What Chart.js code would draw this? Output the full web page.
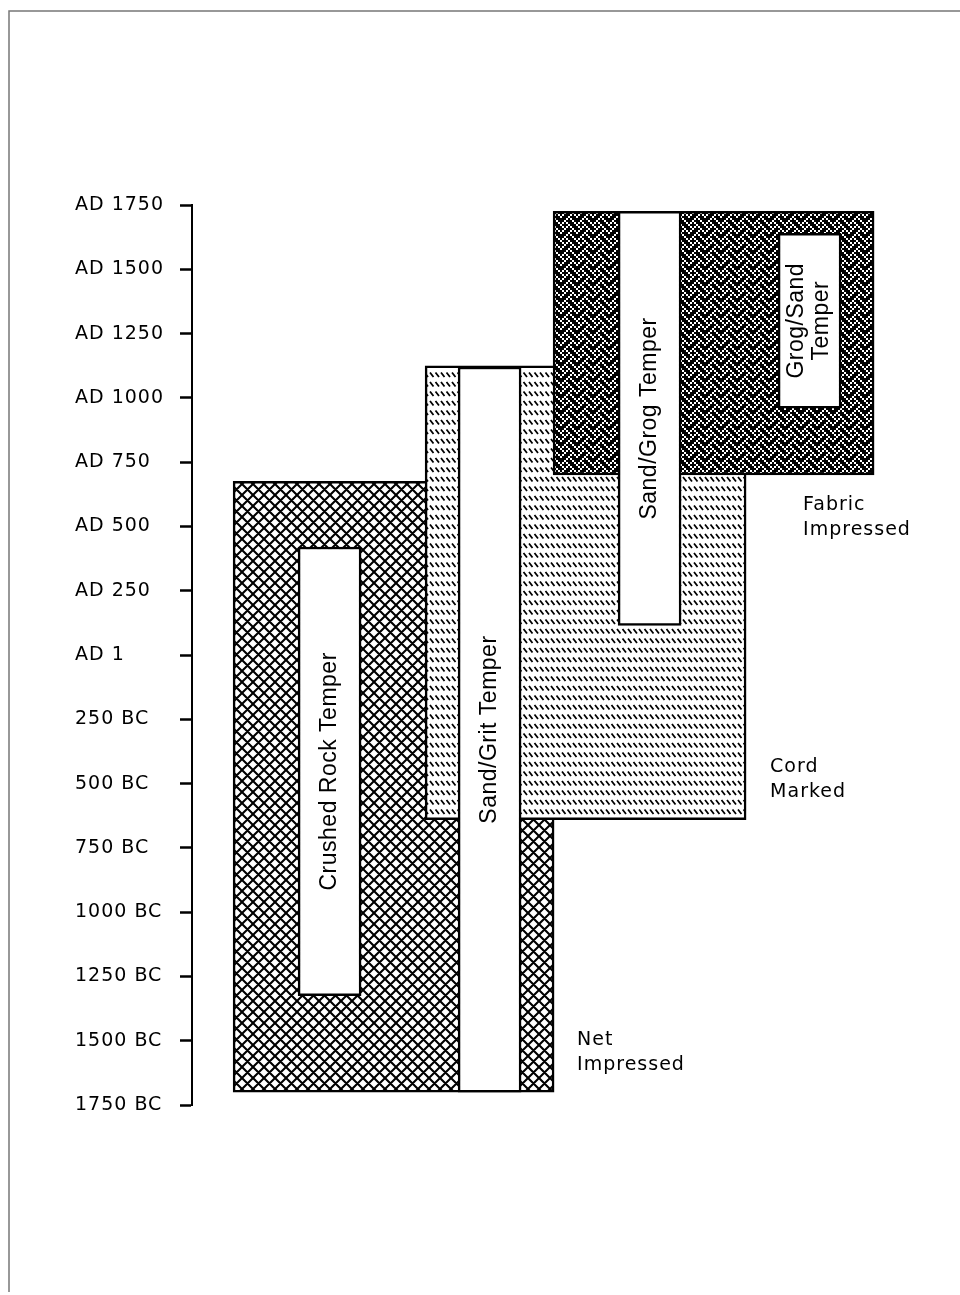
<!DOCTYPE html>
<html>
<head>
<meta charset="utf-8">
<script src="https://cdn.jsdelivr.net/npm/chart.js@4"></script>
<style>
    html, body { margin: 0; padding: 0; background: #fff; }
    #wrap { width: 960px; height: 1295px; position: relative; }
</style>
</head>
<body>
<div id="wrap"><canvas id="chart"></canvas></div>
<script>
// Pottery wares and tempers through time (AD 1 plotted as 0, BC years negative)

const wareLabels = [['Net', 'Impressed'], ['Cord', 'Marked'], ['Fabric', 'Impressed']];
const wareStart = [-1700, -640, 700];
const wareEnd = [675, 1125, 1725];

const temperLabels = [['Crushed Rock Temper'], ['Sand/Grit Temper'], ['Sand/Grog Temper'], ['Grog/Sand', 'Temper']];
const temperStart = [-1325, -1700, 115, 960];
const temperEnd = [420, 1120, 1725, 1640];

const yearTicks = [-1750, -1500, -1250, -1000, -750, -500, -250, 0, 250, 500, 750, 1000, 1250, 1500, 1750];
const tickLabels = ['1750 BC', '1500 BC', '1250 BC', '1000 BC', '750 BC', '500 BC', '250 BC', 'AD 1',
    'AD 250', 'AD 500', 'AD 750', 'AD 1000', 'AD 1250', 'AD 1500', 'AD 1750'];

// layout only: column of each bar on the hidden x axis, and where ware names sit
const wareCols = [1.4, 2.6, 3.4];
const temperCols = [1, 2, 3, 4];
const wareLabelOffset = [[23, -52], [24, -53], [-71, 30]];

const textFont = '19px "DejaVu Sans", Verdana, sans-serif';
const temperFont = '23px "Liberation Sans", Arial, sans-serif';

// --- fill patterns ---
function makePattern(w, h, paint) {
    const c = document.createElement('canvas');
    c.width = w;
    c.height = h;
    const g = c.getContext('2d');
    paint(g, w, h);
    return g.createPattern(c, 'repeat');
}

// diamond crosshatch (net impressed)
const netFill = makePattern(11, 11, (g, w, h) => {
    g.fillStyle = '#fff';
    g.fillRect(0, 0, w, h);
    g.strokeStyle = '#000';
    g.lineWidth = 2.1;
    g.beginPath();
    for (let k = -1; k <= 1; k++) {
        g.moveTo(k * w - 1, -1);
        g.lineTo(k * w + w + 1, h + 1);
        g.moveTo(k * w + w + 1, -1);
        g.lineTo(k * w - 1, h + 1);
    }
    g.stroke();
});

// rows of short back-slashes (cord marked)
const cordFill = makePattern(11, 19, (g, w, h) => {
    g.fillStyle = '#fff';
    g.fillRect(0, 0, w, h);
    g.strokeStyle = '#000';
    g.lineWidth = 1.8;
    g.beginPath();
    [0, 9.5].forEach(r => {
        [0, 5.5].forEach(c => {
            g.moveTo(c + 1, r + 2);
            g.lineTo(c + 4.5, r + 6.5);
        });
    });
    g.stroke();
});

// dark weave (fabric impressed)
const weaveBits = [0x88, 0x54, 0x22, 0x45, 0x88, 0x14, 0x22, 0x51];
const fabricFill = makePattern(16, 16, (g, w, h) => {
    g.fillStyle = '#000';
    g.fillRect(0, 0, w, h);
    g.fillStyle = '#fff';
    weaveBits.forEach((row, y) => {
        for (let x = 0; x < 8; x++) {
            if (row & (0x80 >> x)) g.fillRect(x * 2, y * 2, 2, 2);
        }
    });
});

// --- plugins ---
const pageFrame = {
    id: 'pageFrame',
    beforeDraw(chart) {
        const ctx = chart.ctx;
        ctx.save();
        ctx.strokeStyle = '#777';
        ctx.lineWidth = 1.5;
        ctx.beginPath();
        ctx.moveTo(9, 1292);
        ctx.lineTo(9, 11);
        ctx.lineTo(960, 11);
        ctx.stroke();
        ctx.restore();
        // the scanned lettering is loosely spaced
        ctx.letterSpacing = '1px';
    },
    afterDraw(chart) {
        chart.ctx.letterSpacing = '0px';
    }
};

const barLabels = {
    id: 'barLabels',
    afterDatasetsDraw(chart) {
        const ctx = chart.ctx;
        ctx.save();
        ctx.fillStyle = '#000';
        ctx.textBaseline = 'middle';

        // temper names, rotated, centred in the white bars
        ctx.font = temperFont;
        ctx.textAlign = 'center';
        ctx.letterSpacing = '0.5px';
        chart.getDatasetMeta(0).data.forEach((bar, i) => {
            const lines = temperLabels[i];
            ctx.save();
            ctx.translate(bar.x, (bar.y + bar.base) / 2);
            ctx.rotate(-Math.PI / 2);
            lines.forEach((t, j) => ctx.fillText(t, 0, (j - (lines.length - 1) / 2) * 25));
            ctx.restore();
        });

        // ware names next to each block
        ctx.font = textFont;
        ctx.textAlign = 'left';
        ctx.letterSpacing = '1px';
        chart.getDatasetMeta(1).data.forEach((bar, i) => {
            const right = bar.x + bar.width / 2;
            const bottom = Math.max(bar.y, bar.base);
            const [dx, dy] = wareLabelOffset[i];
            wareLabels[i].forEach((t, j) => ctx.fillText(t, right + dx, bottom + dy + j * 25));
        });
        ctx.restore();
    }
};

new Chart(document.getElementById('chart'), {
    type: 'bar',
    data: {
        datasets: [
            {
                label: 'Temper',
                data: temperCols.map((c, i) => ({ x: c, y: [temperStart[i], temperEnd[i]] })),
                backgroundColor: '#fff',
                borderColor: '#000',
                borderWidth: 2.5,
                borderSkipped: false,
                grouped: false,
                barThickness: 63,
                order: 0
            },
            {
                label: 'Ware',
                data: wareCols.map((c, i) => ({ x: c, y: [wareStart[i], wareEnd[i]] })),
                backgroundColor: [netFill, cordFill, fabricFill],
                borderColor: '#000',
                borderWidth: 2.5,
                borderSkipped: false,
                grouped: false,
                barThickness: 321,
                order: 1
            }
        ]
    },
    options: {
        responsive: true,
        maintainAspectRatio: false,
        animation: false,
        layout: { padding: { left: 75, top: 205, right: 48, bottom: 190 } },
        plugins: {
            legend: { display: false },
            tooltip: { enabled: false }
        },
        scales: {
            x: {
                type: 'linear',
                display: false,
                offset: false,
                min: 0.14,
                max: 4.64
            },
            y: {
                min: -1750,
                max: 1750,
                afterFit: scale => { scale.width = 117; },
                afterBuildTicks: scale => { scale.ticks = yearTicks.map(value => ({ value })); },
                ticks: {
                    crossAlign: 'far',
                    padding: 0,
                    color: '#000',
                    font: { family: '"DejaVu Sans", Verdana, sans-serif', size: 19 },
                    callback: (value, index) => tickLabels[index]
                },
                grid: {
                    drawOnChartArea: false,
                    drawTicks: true,
                    tickLength: 12,
                    tickWidth: 2.5,
                    tickColor: '#000'
                },
                border: { display: true, color: '#000', width: 2 }
            }
        }
    },
    plugins: [pageFrame, barLabels]
});
</script>
</body>
</html>
